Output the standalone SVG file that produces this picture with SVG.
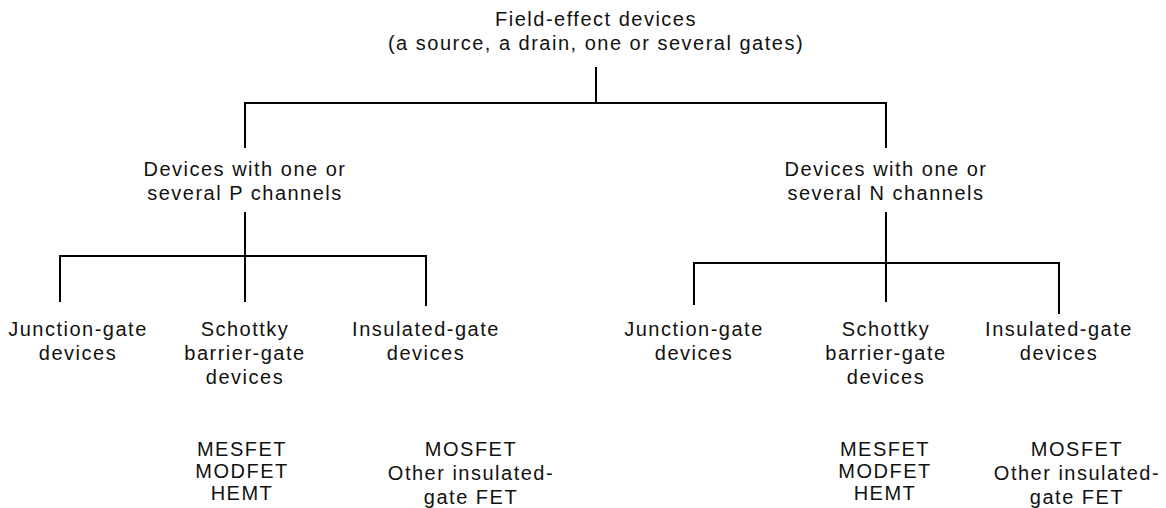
<svg xmlns="http://www.w3.org/2000/svg" width="1166" height="508" viewBox="0 0 1166 508">
<style>
text{font-family:"Liberation Sans",Arial,sans-serif;font-size:20px;letter-spacing:1.5px;fill:#111;text-anchor:middle}
.c line{stroke:#000;stroke-width:2;fill:none}
</style>
<rect width="1166" height="508" fill="#fff"/>
<g class="c" id="connectors">
<line x1="596" y1="67" x2="596" y2="103"/>
<line x1="245" y1="103" x2="886" y2="103"/>
<line x1="245" y1="102" x2="245" y2="148"/>
<line x1="886" y1="102" x2="886" y2="148"/>
<line x1="245" y1="212" x2="245" y2="256"/>
<line x1="60" y1="256" x2="426" y2="256"/>
<line x1="60" y1="255" x2="60" y2="302"/>
<line x1="245" y1="256" x2="245" y2="302"/>
<line x1="426" y1="255" x2="426" y2="306"/>
<line x1="886" y1="212" x2="886" y2="263"/>
<line x1="694" y1="263" x2="1059" y2="263"/>
<line x1="694" y1="262" x2="694" y2="305"/>
<line x1="886" y1="263" x2="886" y2="302"/>
<line x1="1059" y1="262" x2="1059" y2="314"/>
</g>
<g id="root"><text x="596" y="26">Field-effect devices</text><text x="596" y="50">(a source, a drain, one or several gates)</text></g>
<g id="p"><text x="245" y="176">Devices with one or</text><text x="245" y="200">several P channels</text></g>
<g id="n"><text x="886" y="176">Devices with one or</text><text x="886" y="200">several N channels</text></g>
<g id="p-junction"><text x="78" y="336">Junction-gate</text><text x="78" y="360">devices</text></g>
<g id="p-schottky"><text x="245" y="336">Schottky</text><text x="245" y="360">barrier-gate</text><text x="245" y="384">devices</text></g>
<g id="p-insulated"><text x="426" y="336">Insulated-gate</text><text x="426" y="360">devices</text></g>
<g id="n-junction"><text x="694" y="336">Junction-gate</text><text x="694" y="360">devices</text></g>
<g id="n-schottky"><text x="886" y="336">Schottky</text><text x="886" y="360">barrier-gate</text><text x="886" y="384">devices</text></g>
<g id="n-insulated"><text x="1059" y="336">Insulated-gate</text><text x="1059" y="360">devices</text></g>
<g id="p-mes"><text x="242" y="456">MESFET</text><text x="242" y="478">MODFET</text><text x="242" y="500">HEMT</text></g>
<g id="p-mos"><text x="471" y="456">MOSFET</text><text x="471" y="480">Other insulated-</text><text x="471" y="504">gate FET</text></g>
<g id="n-mes"><text x="885" y="456">MESFET</text><text x="885" y="478">MODFET</text><text x="885" y="500">HEMT</text></g>
<g id="n-mos"><text x="1077" y="456">MOSFET</text><text x="1077" y="480">Other insulated-</text><text x="1077" y="504">gate FET</text></g>
</svg>
